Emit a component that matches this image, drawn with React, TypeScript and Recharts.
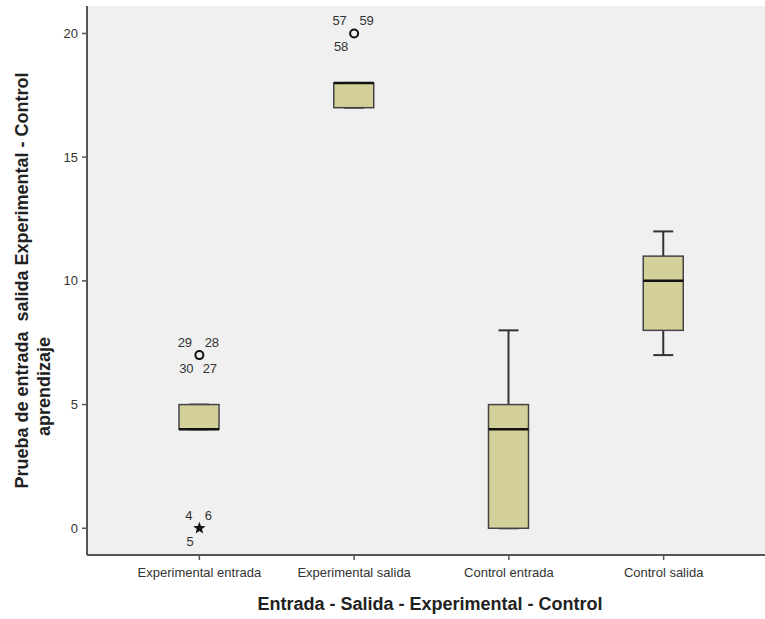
import React from 'react';
import { ComposedChart, Bar, Scatter, XAxis, YAxis, CartesianGrid } from 'recharts';

// Box plot values
const categories = ['Experimental entrada', 'Experimental salida', 'Control entrada', 'Control salida'];
const whiskerLow = [4, 17, 0, 7];
const quartile1 = [4, 17, 0, 8];
const medians = [4, 18, 4, 10];
const quartile3 = [5, 18, 5, 11];
const whiskerHigh = [5, 18, 8, 12];

// Outliers (circle) and extremes (star) with their case numbers
const outliers = [
  { name: 'Experimental entrada', value: 7, kind: 'outlier', ids: ['29', '28', '30', '27'] },
  { name: 'Experimental entrada', value: 0, kind: 'extreme', ids: ['4', '6', '5'] },
  { name: 'Experimental salida', value: 20, kind: 'outlier', ids: ['57', '59', '58'] }
];

const yTicks = [0, 5, 10, 15, 20];

const FONT = '"Liberation Sans", Arial, sans-serif';
const BOX_FILL = '#d4d09a';
const LINE = '#333';

const boxData = categories.map((name, i) => ({
  name,
  low: whiskerLow[i],
  q1: quartile1[i],
  median: medians[i],
  q3: quartile3[i],
  high: whiskerHigh[i]
}));

// Bar spans low..high; the inner marks are placed on the same linear scale
const BoxShape = (props: any) => {
  const { x, y, width, height, payload } = props;
  const top = Math.min(y, y + height);
  const bottom = Math.max(y, y + height);
  const span = payload.high - payload.low;
  const k = span > 0 ? (bottom - top) / span : 0;
  const py = (v: number) => bottom - (v - payload.low) * k;
  const cx = x + width / 2;
  const cap = width / 4;
  return (
    <g>
      <line x1={cx} x2={cx} y1={py(payload.high)} y2={py(payload.q3)} stroke={LINE} strokeWidth={2} />
      <line x1={cx} x2={cx} y1={py(payload.q1)} y2={py(payload.low)} stroke={LINE} strokeWidth={2} />
      <line x1={cx - cap} x2={cx + cap} y1={py(payload.high)} y2={py(payload.high)} stroke={LINE} strokeWidth={2} />
      <line x1={cx - cap} x2={cx + cap} y1={py(payload.low)} y2={py(payload.low)} stroke={LINE} strokeWidth={2} />
      <rect
        x={x}
        y={py(payload.q3)}
        width={width}
        height={py(payload.q1) - py(payload.q3)}
        fill={BOX_FILL}
        stroke="#444"
        strokeWidth={1.5}
      />
      <line x1={x} x2={x + width} y1={py(payload.median)} y2={py(payload.median)} stroke="#111" strokeWidth={2.5} />
    </g>
  );
};

const starPath = (cx: number, cy: number, ro: number, ri: number) => {
  let d = '';
  for (let i = 0; i < 10; i++) {
    const r = i % 2 === 0 ? ro : ri;
    const a = -Math.PI / 2 + (i * Math.PI) / 5;
    d += (i === 0 ? 'M' : 'L') + (cx + r * Math.cos(a)).toFixed(2) + ',' + (cy + r * Math.sin(a)).toFixed(2);
  }
  return d + 'Z';
};

// label slots: upper-left, upper-right, lower-left, lower-right (offsets for 2-digit ids)
const slots = [
  [-14.5, -12.5],
  [12.5, -12.5],
  [-13, 13],
  [10.5, 13]
];

const OutlierShape = (props: any) => {
  const { cx, cy, payload } = props;
  return (
    <g>
      {payload.kind === 'extreme' ? (
        <path d={starPath(cx, cy, 6.5, 2.7)} fill="#111" />
      ) : (
        <circle cx={cx} cy={cy} r={4} fill="none" stroke="#111" strokeWidth={2} />
      )}
      {payload.ids.map((id: string, i: number) => {
        const [sx, dy] = slots[i];
        const dx = id.length === 1 ? sx * 0.72 : sx;
        return (
          <text
            key={id}
            x={cx + dx}
            y={cy + dy}
            textAnchor="middle"
            dominantBaseline="central"
            fontSize={13}
            fontFamily={FONT}
            fill="#333"
          >
            {id}
          </text>
        );
      })}
    </g>
  );
};

const YTitle = (p: any) => {
  const vb = p.viewBox;
  const mid = vb.y + vb.height / 2;
  const style = { whiteSpace: 'pre' as const };
  return (
    <g fontFamily={FONT} fontWeight="bold" fontSize={18} fill="#222">
      <text x={22} y={mid} transform={`rotate(-90 22 ${mid})`} textAnchor="middle" dominantBaseline="central" style={style}>
        Prueba de entrada  salida Experimental - Control
      </text>
      <text x={44} y={mid + 106} transform={`rotate(-90 44 ${mid + 106})`} textAnchor="middle" dominantBaseline="central">
        aprendizaje
      </text>
    </g>
  );
};

const XTitle = (p: any) => {
  const vb = p.viewBox;
  return (
    <text
      x={vb.x + vb.width / 2 + 4}
      y={604}
      textAnchor="middle"
      dominantBaseline="central"
      fontFamily={FONT}
      fontWeight="bold"
      fontSize={18}
      fill="#222"
    >
      Entrada - Salida - Experimental - Control
    </text>
  );
};

const App: React.FC = () => {
  return (
    <div style={{ position: 'absolute', left: 0, top: 0, width: 765, height: 619, background: '#fff' }}>
      <ComposedChart width={765} height={619} data={boxData} margin={{ top: 6, right: 0, bottom: 0, left: 0 }}>
        <CartesianGrid fill="#f0f0f0" horizontal={false} vertical={false} />
        <XAxis
          dataKey="name"
          type="category"
          allowDuplicatedCategory={false}
          height={64}
          padding={{ left: 35, right: 24 }}
          axisLine={{ stroke: '#555', strokeWidth: 2 }}
          tickLine={{ stroke: '#555', strokeWidth: 1.5 }}
          tickSize={5}
          tickMargin={8}
          tick={{ fill: '#333', fontSize: 13, fontFamily: FONT }}
          interval={0}
          label={{ content: XTitle }}
        />
        <XAxis
          xAxisId="top"
          dataKey="name"
          orientation="top"
          allowDuplicatedCategory={false}
          height={0}
          tick={false}
          tickLine={false}
          axisLine={{ stroke: '#777', strokeWidth: 2 }}
        />
        <YAxis
          type="number"
          domain={[-1.08, 21.11]}
          ticks={yTicks}
          allowDataOverflow
          width={87}
          axisLine={{ stroke: '#555', strokeWidth: 2 }}
          tickLine={{ stroke: '#555', strokeWidth: 1.5 }}
          tickSize={5}
          tickMargin={4}
          tick={{ fill: '#333', fontSize: 13, fontFamily: FONT }}
          label={{ content: YTitle }}
        />
        <Bar dataKey={(d: any) => [d.low, d.high]} barSize={40} shape={<BoxShape />} isAnimationActive={false} />
        <Scatter data={outliers} dataKey="value" shape={<OutlierShape />} isAnimationActive={false} />
      </ComposedChart>
    </div>
  );
};

export default App;
